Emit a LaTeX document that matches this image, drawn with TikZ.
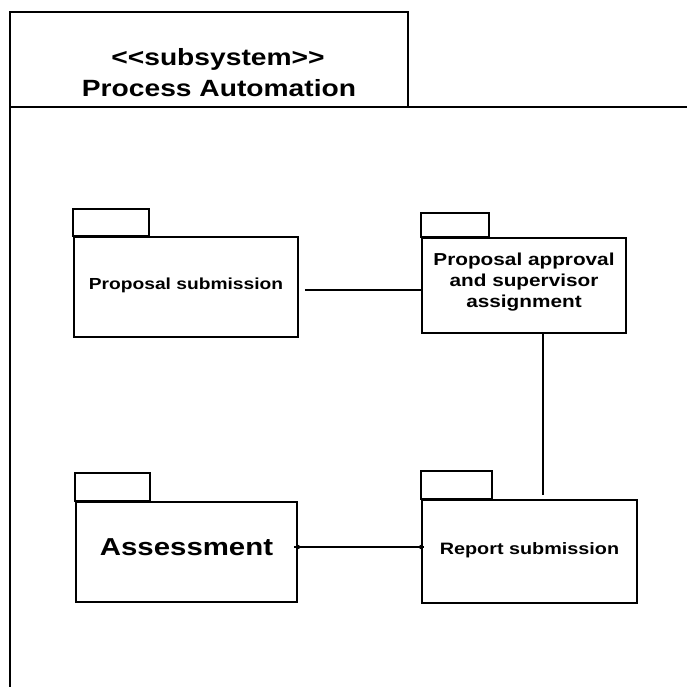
\documentclass[tikz,border=0pt]{standalone}
\usepackage{fontspec}
\setmainfont[FakeStretch=1.2]{Liberation Sans}
\begin{document}
\begin{tikzpicture}[x=1pt,y=-1pt,
  frameline/.style={line width=2.2pt},
  titletext/.style={anchor=base,inner sep=0pt,font=\bfseries\fontsize{23.5}{28}\selectfont},
  pkg/.style={draw,line width=1.8pt,rectangle,inner sep=0pt},
  pkgtext/.style={inner sep=0pt,align=center,font=\bfseries\fontsize{16}{21}\selectfont},
  tab/.style={draw,line width=1.8pt},
  conn/.style={line width=2.6pt}]
\useasboundingbox (0,0) rectangle (687,687);
% frame
\draw[frameline] (10,687) -- (10,12) -- (408,12) -- (408,107) -- (10,107);
\draw[frameline] (408,107) -- (687,107);
\node[titletext] (title1) at (218,66) {<\kern0pt<subsystem>\kern0pt>};
\node[titletext] (title2) at (219,97) {Process Automation};
% packages
\node[pkg,minimum width=224pt,minimum height=100pt] (ps) at (186,287) {};
\draw[tab] (ps.north west) rectangle ++(76,-27);
\node[pkgtext] (psT) at ([yshift=2pt]ps.center) {Proposal submission};
\node[pkg,minimum width=204pt,minimum height=95pt] (pa) at (524,285.5) {};
\draw[tab] (pa.north west) rectangle ++(68,-24);
\node[pkgtext,font=\bfseries\fontsize{17.3}{21}\selectfont] (paT) at ([yshift=3pt]pa.center) {Proposal approval\\and supervisor\\assignment};
\node[pkg,minimum width=221pt,minimum height=100pt] (as) at (186.5,552) {};
\draw[tab] (as.north west) rectangle ++(75,-28);
\node[pkgtext,font=\bfseries\fontsize{24.5}{28}\selectfont] (asT) at ([yshift=5pt]as.center) {Assessment};
\node[pkg,minimum width=215pt,minimum height=103pt] (rs) at (529.5,551.5) {};
\draw[tab] (rs.north west) rectangle ++(71,-28);
\node[pkgtext,font=\bfseries\fontsize{16.5}{21}\selectfont] (rsT) at ([yshift=1pt]rs.center) {Report submission};
% connectors
\draw[conn] ([xshift=6pt,yshift=-3pt]ps.east) -- ([yshift=-3pt]ps.east -| pa.west);
\draw[conn] ([xshift=19pt]pa.south) -- ([xshift=19pt,yshift=4pt]pa.south |- rs.north);
\draw[conn] ([xshift=-4pt,yshift=5pt]as.east) -- ([xshift=3pt,yshift=5pt]as.east -| rs.west);
\fill ([yshift=5pt]as.east) circle (2.2pt);
\fill ([yshift=5pt]as.east -| rs.west) circle (2.2pt);
\end{tikzpicture}
\end{document}
